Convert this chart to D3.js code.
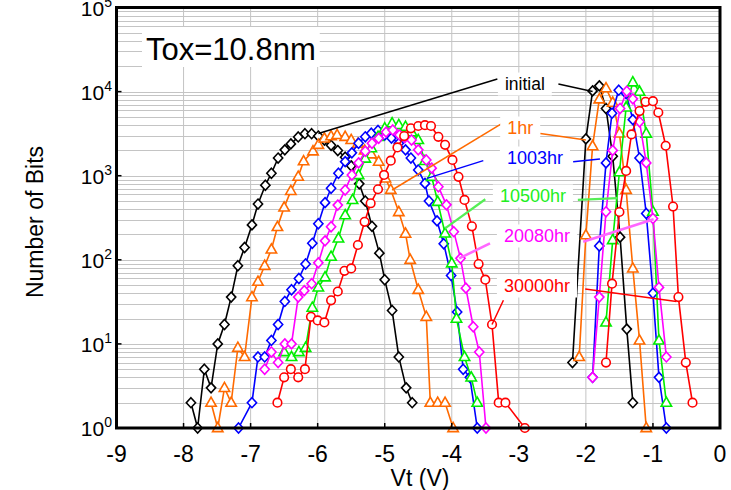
<!DOCTYPE html>
<html><head><meta charset="utf-8">
<script src="https://cdn.jsdelivr.net/npm/d3@7"></script>
<style>
body{margin:0;background:#fff}
svg{display:block;font-family:"Liberation Sans",Arial,Helvetica,sans-serif}
</style>
</head><body>
<svg id="chart" width="731" height="490"></svg>
<script>
// ---------- DATA: [Vt (V), Number of Bits] ----------
const initialLeft=[[-7.89,2],[-7.79,1],[-7.69,5],[-7.59,3],[-7.49,10],[-7.39,17],[-7.29,36],[-7.19,85],[-7.09,140],[-6.98,260],[-6.89,460],[-6.78,770],[-6.69,1070],[-6.59,1620],[-6.49,2030],[-6.40,2390],[-6.29,2890],[-6.19,3160],[-6.09,3160],[-5.99,2960],[-5.90,2650],[-5.80,2300],[-5.70,1990],[-5.59,1660],[-5.50,1310],[-5.38,800],[-5.29,500],[-5.19,250],[-5.08,120],[-5.00,58],[-4.89,25],[-4.79,7],[-4.68,3],[-4.59,2]];
const initialRight=[[-2.20,6],[-2.00,2740],[-1.90,10200],[-1.80,11700],[-1.70,6300],[-1.60,1700],[-1.49,186],[-1.39,15],[-1.30,2]];

const hr1Left=[[-7.59,2],[-7.49,1],[-7.39,3],[-7.29,2],[-7.19,9],[-7.09,7],[-6.98,36],[-6.89,55],[-6.79,85],[-6.69,133],[-6.60,246],[-6.50,420],[-6.40,660],[-6.29,975],[-6.21,1490],[-6.07,1950],[-5.99,2330],[-5.90,2780],[-5.80,2950],[-5.71,3050],[-5.59,2900],[-5.50,2660],[-5.40,2400],[-5.30,2000],[-5.20,1800],[-5.09,1470],[-4.99,930],[-4.91,680],[-4.79,370],[-4.69,205],[-4.62,100],[-4.50,44],[-4.38,21],[-4.32,2],[-4.21,2],[-4.10,2],[-3.98,1]];
const hr1Right=[[-2.10,7],[-2.00,196],[-1.90,2250],[-1.80,8100],[-1.70,11000],[-1.60,7400],[-1.50,3180],[-1.40,680],[-1.30,79],[-1.20,11],[-1.10,1]];

const hr1003Left=[[-7.18,1],[-6.98,2],[-6.89,7],[-6.79,7],[-6.69,11],[-6.59,17],[-6.49,32],[-6.39,44],[-6.28,60],[-6.18,89],[-6.08,157],[-5.99,268],[-5.89,478],[-5.80,710],[-5.69,1070],[-5.59,1470],[-5.49,1870],[-5.39,2430],[-5.29,2900],[-5.20,3200],[-5.10,3450],[-5.00,3050],[-4.90,2800],[-4.79,2430],[-4.69,2030],[-4.61,1620],[-4.50,1170],[-4.40,810],[-4.34,500],[-4.22,290],[-4.12,155],[-4.01,65],[-3.92,24],[-3.83,5],[-3.73,4],[-3.62,1]];
const hr1003Right=[[-1.90,4],[-1.80,146],[-1.70,1420],[-1.61,5540],[-1.51,10400],[-1.40,9500],[-1.30,4640],[-1.20,1620],[-1.10,355],[-1.00,40],[-0.91,4],[-0.80,1]];

const hr10500Left=[[-6.50,8],[-6.39,7],[-6.28,8],[-6.18,9],[-6.08,27],[-5.99,47],[-5.89,62],[-5.80,109],[-5.69,180],[-5.59,340],[-5.48,515],[-5.39,1020],[-5.29,1600],[-5.20,2130],[-5.10,2900],[-5.00,3660],[-4.89,4200],[-4.79,4000],[-4.69,3820],[-4.60,3300],[-4.50,2660],[-4.40,1500],[-4.30,970],[-4.21,490],[-4.10,206],[-4.00,91],[-3.93,20],[-3.81,7],[-3.71,4],[-3.62,2]];
const hr10500Right=[[-1.70,18],[-1.60,172],[-1.50,1100],[-1.40,6500],[-1.30,12900],[-1.20,10000],[-1.10,3170],[-1.00,373],[-0.91,11],[-0.80,2]];

const hr20080Left=[[-6.79,5],[-6.69,8],[-6.59,6],[-6.49,10],[-6.39,10],[-6.29,36],[-6.20,43],[-6.09,52],[-5.99,92],[-5.89,168],[-5.80,247],[-5.70,447],[-5.59,677],[-5.49,1020],[-5.39,1420],[-5.29,1950],[-5.19,2430],[-5.09,2780],[-4.98,3300],[-4.88,3500],[-4.78,3050],[-4.70,2850],[-4.60,2660],[-4.50,2030],[-4.38,1540],[-4.30,1230],[-4.20,740],[-4.08,450],[-3.97,216],[-3.87,104],[-3.79,46],[-3.68,16],[-3.59,8],[-3.49,1]];
const hr20080Right=[[-1.90,4],[-1.80,36],[-1.70,372],[-1.60,2000],[-1.49,6300],[-1.39,10100],[-1.30,8200],[-1.20,4380],[-1.10,1420],[-1.00,310],[-0.91,47],[-0.80,7]];

const hr30000Left=[[-6.60,2],[-6.50,4],[-6.40,5],[-6.29,4],[-6.19,5],[-6.10,21],[-6.00,19],[-5.90,18],[-5.80,33],[-5.70,42],[-5.60,74],[-5.50,79],[-5.40,150],[-5.30,283],[-5.21,470],[-5.10,690],[-5.01,1020],[-4.91,1510],[-4.81,2170],[-4.71,2960],[-4.61,3660],[-4.50,3900],[-4.40,3990],[-4.31,3900],[-4.20,2900],[-4.10,2330],[-3.99,1540],[-3.90,970],[-3.81,515],[-3.70,250],[-3.60,89],[-3.50,58],[-3.40,17],[-3.30,2],[-3.20,2],[-2.91,1]];
const hr30000Right=[[-1.70,6],[-1.61,52],[-1.50,370],[-1.40,1140],[-1.32,3100],[-1.20,5860],[-1.11,7550],[-1.00,7700],[-0.92,5640],[-0.81,2270],[-0.70,430],[-0.62,36],[-0.51,6],[-0.41,2]];

const seriesLabels=["initial","1hr","1003hr","10500hr","20080hr","30000hr"];
const seriesSegments=[[initialLeft,initialRight],[hr1Left,hr1Right],[hr1003Left,hr1003Right],[hr10500Left,hr10500Right],[hr20080Left,hr20080Right],[hr30000Left,hr30000Right]];
const seriesColors=["#000000","#ff6a00","#0000ff","#00ee00","#ff00ff","#ff0000"];
const seriesShapes=["diamond","triangle","diamond","triangle","diamond","circle"];

// label anchor (center) and leader line ends, in data units [Vt, Bits]
const labelCenters=[[-2.91,12300],[-2.98,3690],[-2.76,1623],[-2.79,574],[-2.73,192],[-2.73,48.8]];
const leaderLines=[
  [[[-3.32,14100],[-5.99,3170]],[[-2.41,12300],[-1.90,10000]]],
  [[[-3.25,4200],[-4.89,676]],[[-2.68,3180],[-2.00,2660]]],
  [[[-3.53,1510],[-4.37,930]],[[-2.19,1470],[-1.79,1580]]],
  [[[-3.50,525],[-4.10,237]],[[-2.12,515],[-1.53,540]]],
  [[[-3.43,157],[-3.89,104]],[[-2.04,164],[-0.99,303]]],
  [[[-3.23,33],[-3.40,17]],[[-2.01,45],[-0.65,32]]]
];
const leaderColors=["#000000","#ff6a00","#0000ff","#55ee55","#ff66ff","#ff0000"];
const leaderWidths=[1.5,1.5,1.5,2.2,2.6,1.5];

const xTickValues=[-9,-8,-7,-6,-5,-4,-3,-2,-1,0];
const yTickExponents=[0,1,2,3,4,5];
const titleText="Tox=10.8nm";
const xAxisTitle="Vt (V)";
const yAxisTitle="Number of Bits";

// ---------- LAYOUT ----------
const svg=d3.select("#chart");
const L=116.5,R=720,T=7.5,B=428;
const x=d3.scaleLinear().domain([-9,0]).range([L,R]);
const y=d3.scaleLog().domain([1,1e5]).range([B,T]);

// grid
const grid=svg.append("g").attr("stroke","#c4c4c4").attr("stroke-width",1);
xTickValues.slice(1,-1).forEach(v=>grid.append("line").attr("x1",x(v)).attr("x2",x(v)).attr("y1",T).attr("y2",B));
const minorVals=[];
yTickExponents.slice(0,-1).forEach(e=>{for(let k=1;k<10;k++){const v=k*Math.pow(10,e); if(v>1) minorVals.push(v);}});
minorVals.forEach(v=>grid.append("line").attr("x1",L).attr("x2",R).attr("y1",Math.round(y(v))+0.5).attr("y2",Math.round(y(v))+0.5));

// Title box
const tg=svg.append("g");
const tt=tg.append("text").attr("x",146).attr("y",60).attr("font-size",31).attr("fill","#000").text(titleText);
const tb=tt.node().getBBox();
tg.insert("rect","text").attr("x",tb.x-4).attr("y",27).attr("width",tb.width+8).attr("height",40).attr("fill","#fff");

// series
const line=d3.line().x(d=>x(d[0])).y(d=>y(d[1]));
const shapePath={
  diamond:"M0,-5L4.6,0L0,5L-4.6,0Z",
  triangle:"M0,-5.6L5.2,3.6L-5.2,3.6Z",
  circle:d3.symbol(d3.symbolCircle,58)()
};
seriesSegments.forEach((segs,i)=>{
  const g=svg.append("g");
  segs.forEach(seg=>{
    g.append("path").attr("d",line(seg)).attr("fill","none").attr("stroke",seriesColors[i]).attr("stroke-width",1.6);
  });
  segs.forEach(seg=>{
    g.selectAll(null).data(seg).join("path")
      .attr("d",shapePath[seriesShapes[i]])
      .attr("transform",d=>`translate(${x(d[0])},${y(d[1])})`)
      .attr("fill","#fff").attr("stroke",seriesColors[i]).attr("stroke-width",1.6);
  });
});

// labels with leader lines
seriesLabels.forEach((lab,i)=>{
  const g=svg.append("g");
  leaderLines[i].forEach(seg=>{
    g.append("line").attr("x1",x(seg[0][0])).attr("y1",y(seg[0][1])).attr("x2",x(seg[1][0])).attr("y2",y(seg[1][1]))
      .attr("stroke",leaderColors[i]).attr("stroke-width",leaderWidths[i]);
  });
  const cx=x(labelCenters[i][0]), cy=y(labelCenters[i][1]);
  const t=g.append("text").attr("x",cx).attr("y",cy).attr("dy","0.35em").attr("text-anchor","middle")
    .attr("font-size",i===0?17.5:18).attr("fill",seriesColors[i]==="#00ee00"?"#22ee22":seriesColors[i]).text(lab);
  const b=t.node().getBBox();
  g.insert("rect","text").attr("x",b.x-7).attr("y",cy-11.5).attr("width",b.width+14).attr("height",23).attr("fill","#fff");
});

// frame
svg.append("rect").attr("x",L).attr("y",T).attr("width",R-L).attr("height",B-T).attr("fill","none").attr("stroke","#000").attr("stroke-width",3);
// ticks
const tk=svg.append("g").attr("stroke","#000").attr("stroke-width",1.5);
yTickExponents.slice(1,-1).forEach(e=>tk.append("line").attr("x1",L).attr("x2",L+5).attr("y1",y(Math.pow(10,e))).attr("y2",y(Math.pow(10,e))));
xTickValues.slice(1,-1).forEach(v=>tk.append("line").attr("x1",x(v)).attr("x2",x(v)).attr("y1",B).attr("y2",B-5));

// tick labels
xTickValues.forEach(v=>svg.append("text").attr("x",x(v)).attr("y",462).attr("text-anchor","middle").attr("font-size",23).attr("fill","#000").text(v));
yTickExponents.forEach(e=>{
  const t=svg.append("text").attr("x",112).attr("y",y(Math.pow(10,e))+8).attr("text-anchor","end").attr("font-size",21).attr("fill","#000");
  t.append("tspan").text("10");
  t.append("tspan").attr("dy",-9).attr("font-size",14).text(e);
});
// axis titles
svg.append("text").attr("x",420).attr("y",486).attr("text-anchor","middle").attr("font-size",23).attr("fill","#000").text(xAxisTitle);
svg.append("text").attr("transform","translate(43,222) rotate(-90)").attr("text-anchor","middle").attr("font-size",23).attr("fill","#000").text(yAxisTitle);
</script>
</body></html>
